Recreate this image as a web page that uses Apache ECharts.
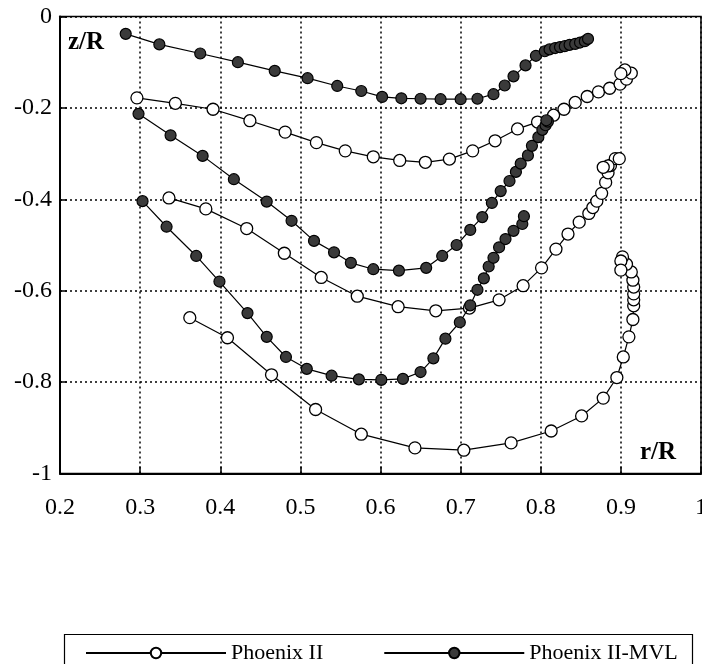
<!DOCTYPE html>
<html>
<head>
<meta charset="utf-8">
<script src="https://cdn.jsdelivr.net/npm/echarts@6/dist/echarts.min.js"></script>
<style>
html,body{margin:0;padding:0;background:#fff;overflow:hidden;}
#chart{width:702px;height:664px;}
</style>
</head>
<body>
<div id="chart"></div>
<script>
// ---- data: [r/R, z/R] pairs ----
const p2Top = [[0.296,-0.178],[0.344,-0.190],[0.391,-0.203],[0.437,-0.228],[0.481,-0.253],[0.520,-0.276],[0.556,-0.294],[0.591,-0.307],[0.624,-0.315],[0.656,-0.319],[0.686,-0.312],[0.715,-0.294],[0.743,-0.272],[0.771,-0.246],[0.796,-0.231],[0.816,-0.216],[0.829,-0.203],[0.843,-0.188],[0.858,-0.175],[0.872,-0.165],[0.886,-0.157],[0.899,-0.148],[0.907,-0.137],[0.913,-0.124],[0.905,-0.117],[0.900,-0.125]];
const p2Mid = [[0.336,-0.397],[0.382,-0.421],[0.433,-0.464],[0.480,-0.518],[0.526,-0.571],[0.571,-0.612],[0.622,-0.635],[0.669,-0.644],[0.711,-0.638],[0.748,-0.620],[0.778,-0.589],[0.801,-0.550],[0.819,-0.509],[0.834,-0.476],[0.848,-0.450],[0.860,-0.431],[0.865,-0.418],[0.870,-0.404],[0.876,-0.387],[0.881,-0.363],[0.884,-0.342],[0.887,-0.326],[0.893,-0.311],[0.898,-0.311],[0.884,-0.327],[0.878,-0.330]];
const p2Bot = [[0.362,-0.659],[0.409,-0.703],[0.464,-0.784],[0.519,-0.860],[0.576,-0.914],[0.643,-0.944],[0.704,-0.949],[0.763,-0.933],[0.813,-0.907],[0.851,-0.874],[0.878,-0.835],[0.895,-0.790],[0.903,-0.745],[0.910,-0.701],[0.915,-0.663],[0.916,-0.633],[0.916,-0.620],[0.916,-0.607],[0.916,-0.592],[0.915,-0.577],[0.913,-0.559],[0.907,-0.542],[0.902,-0.526],[0.900,-0.535],[0.900,-0.555]];
const mvlTop = [[0.282,-0.038],[0.324,-0.061],[0.375,-0.081],[0.422,-0.100],[0.468,-0.119],[0.509,-0.135],[0.546,-0.152],[0.576,-0.163],[0.602,-0.176],[0.626,-0.179],[0.650,-0.180],[0.675,-0.181],[0.700,-0.181],[0.721,-0.180],[0.741,-0.170],[0.755,-0.151],[0.766,-0.131],[0.781,-0.107],[0.794,-0.086],[0.805,-0.076],[0.811,-0.072],[0.818,-0.069],[0.824,-0.067],[0.830,-0.065],[0.836,-0.062],[0.843,-0.060],[0.849,-0.057],[0.855,-0.054],[0.859,-0.049]];
const mvlMid = [[0.298,-0.213],[0.338,-0.260],[0.378,-0.305],[0.417,-0.356],[0.458,-0.405],[0.489,-0.447],[0.517,-0.491],[0.542,-0.516],[0.563,-0.539],[0.591,-0.553],[0.623,-0.556],[0.657,-0.550],[0.677,-0.524],[0.695,-0.500],[0.712,-0.467],[0.727,-0.439],[0.739,-0.408],[0.750,-0.382],[0.761,-0.360],[0.769,-0.340],[0.775,-0.322],[0.784,-0.304],[0.789,-0.283],[0.797,-0.264],[0.802,-0.248],[0.806,-0.238],[0.809,-0.230],[0.807,-0.227]];
const mvlBot = [[0.303,-0.404],[0.333,-0.460],[0.370,-0.524],[0.399,-0.580],[0.434,-0.649],[0.458,-0.701],[0.482,-0.745],[0.508,-0.771],[0.539,-0.786],[0.573,-0.794],[0.601,-0.795],[0.628,-0.793],[0.650,-0.778],[0.666,-0.748],[0.681,-0.705],[0.699,-0.669],[0.712,-0.632],[0.721,-0.598],[0.729,-0.573],[0.735,-0.547],[0.741,-0.528],[0.748,-0.505],[0.756,-0.487],[0.766,-0.469],[0.777,-0.454],[0.779,-0.437]];
const seriesNames = ['Phoenix II', 'Phoenix II-MVL'];
const xAxisName = 'r/R';
const yAxisName = 'z/R';

const FONT = '"Liberation Serif", "Times New Roman", serif';
const chart = echarts.init(document.getElementById('chart'), null, {renderer: 'canvas'});

function openSeries(data) {
  return {
    name: seriesNames[0], type: 'line', data: data,
    symbol: 'circle', symbolSize: 12, showSymbol: true,
    lineStyle: {color: '#000', width: 1.2},
    itemStyle: {color: '#fff', borderColor: '#000', borderWidth: 1.3},
    animation: false, z: 3
  };
}
function mvlSeries(data) {
  return {
    name: seriesNames[1], type: 'line', data: data,
    symbol: 'circle', symbolSize: 11, showSymbol: true,
    lineStyle: {color: '#000', width: 1.2},
    itemStyle: {color: '#3a3a3a', borderColor: '#000', borderWidth: 1.2},
    animation: false, z: 4
  };
}

const option = {
  backgroundColor: '#fff',
  animation: false,
  grid: {left: 60, top: 16.5, right: 1, bottom: 190.5, containLabel: false,
         outerBoundsMode: 'none',
         show: true, borderColor: '#000', borderWidth: 1.5, backgroundColor: 'transparent'},
  xAxis: {
    type: 'value', min: 0.2, max: 1, interval: 0.1,
    axisLine: {show: true, onZero: false, lineStyle: {color: '#000', width: 2}},
    axisTick: {show: true, inside: true, length: 7, lineStyle: {color: '#000', width: 1.5}},
    axisLabel: {color: '#000', fontFamily: FONT, fontSize: 24, margin: 22,
                showMaxLabel: true, showMinLabel: true,
                formatter: v => String(+v.toFixed(1))},
    splitLine: {show: true, lineStyle: {color: '#000', type: [2, 3], width: 1.5}}
  },
  yAxis: {
    type: 'value', min: -1, max: 0, interval: 0.2,
    axisLine: {show: true, onZero: false, lineStyle: {color: '#000', width: 2}},
    axisTick: {show: true, inside: true, length: 7, lineStyle: {color: '#000', width: 1.5}},
    axisLabel: {color: '#000', fontFamily: FONT, fontSize: 24, margin: 8,
                formatter: v => String(+v.toFixed(1))},
    splitLine: {show: true, lineStyle: {color: '#000', type: [2, 3], width: 1.5}}
  },
  legend: {
    data: seriesNames,
    left: 80, top: 637,
    itemWidth: 140, itemHeight: 13, itemGap: 60,
    textStyle: {fontFamily: FONT, fontSize: 22, color: '#000'},
    inactiveColor: '#aaa'
  },
  graphic: [
    {type: 'rect', left: 62, top: 632, shape: {width: 628, height: 31},
     style: {fill: 'none', stroke: '#000', lineWidth: 1.2}, silent: true},
    {type: 'text', left: 68, top: 30,
     style: {text: yAxisName, font: 'bold 25px ' + FONT, fill: '#000'}},
    {type: 'text', left: 640, top: 440,
     style: {text: xAxisName, font: 'bold 25px ' + FONT, fill: '#000'}}
  ],
  series: [
    openSeries(p2Top), openSeries(p2Mid), openSeries(p2Bot),
    mvlSeries(mvlTop), mvlSeries(mvlMid), mvlSeries(mvlBot)
  ]
};
chart.setOption(option);
</script>
</body>
</html>
